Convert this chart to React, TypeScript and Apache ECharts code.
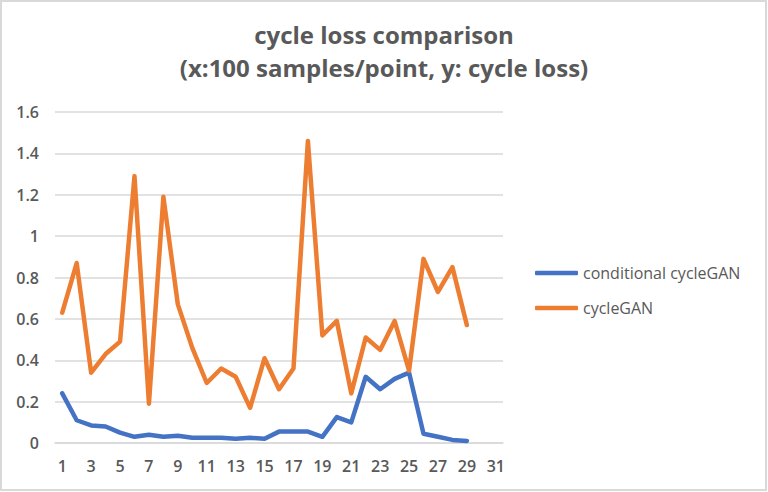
import React, { useEffect, useRef } from "react";
import * as echarts from "echarts";

const categories: string[] = Array.from({ length: 31 }, (_, i) => String(i + 1));

const conditionalCycleGAN: number[] = [
  0.24, 0.11, 0.085, 0.08, 0.05, 0.03, 0.04, 0.03, 0.035, 0.025,
  0.025, 0.025, 0.02, 0.025, 0.02, 0.055, 0.055, 0.055, 0.03, 0.125,
  0.1, 0.32, 0.26, 0.31, 0.34, 0.045, 0.03, 0.015, 0.01,
];

const cycleGAN: number[] = [
  0.63, 0.87, 0.34, 0.43, 0.49, 1.29, 0.19, 1.19, 0.67, 0.46,
  0.29, 0.36, 0.32, 0.17, 0.41, 0.26, 0.36, 1.46, 0.52, 0.59,
  0.24, 0.51, 0.45, 0.59, 0.35, 0.89, 0.73, 0.85, 0.57,
];

const seriesNames: string[] = ["conditional cycleGAN", "cycleGAN"];
const titleText = "cycle loss comparison\n(x:100 samples/point, y: cycle loss)";

const TEXT = "#595959";
const GRID = "#d9d9d9";
const FONT = "'Open Sans', 'Noto Sans', sans-serif";

export default function App() {
  const ref = useRef<HTMLDivElement>(null);

  useEffect(() => {
    if (!ref.current) return;
    const chart = echarts.init(ref.current, undefined, { renderer: "svg" });
    chart.setOption({
      animation: false,
      backgroundColor: "#ffffff",
      color: ["#4472C4", "#ED7D31"],
      title: {
        text: titleText,
        left: "center",
        top: 18,
        padding: 0,
        textStyle: {
          color: TEXT,
          fontFamily: FONT,
          fontWeight: "bold",
          fontSize: 24,
          lineHeight: 33,
        },
      },
      graphic: [
        {
          type: "rect",
          shape: { x: 1, y: 1, width: 765, height: 489 },
          style: { fill: "none", stroke: GRID, lineWidth: 2 },
          silent: true,
        },
      ],
      legend: {
        orient: "vertical",
        left: 535,
        top: 264,
        padding: 0,
        itemWidth: 43,
        itemHeight: 4.5,
        itemGap: 17,
        icon: "roundRect",
        textStyle: {
          color: TEXT,
          fontFamily: FONT,
          fontSize: 16,
          fontWeight: 500,
          lineHeight: 18,
        },
        data: seriesNames,
      },
      grid: {
        left: 55,
        right: 265,
        top: 112,
        bottom: 49,
        containLabel: false,
      },
      xAxis: {
        type: "category",
        data: categories,
        boundaryGap: true,
        axisLine: { show: true, lineStyle: { color: GRID, width: 1.5 } },
        axisTick: { show: false },
        axisLabel: {
          interval: 1,
          color: TEXT,
          fontFamily: FONT,
          fontSize: 16,
          fontWeight: 600,
          margin: 15,
        },
        splitLine: { show: false },
      },
      yAxis: {
        type: "value",
        min: 0,
        max: 1.6,
        interval: 0.2,
        axisLine: { show: false },
        axisTick: { show: false },
        axisLabel: {
          color: TEXT,
          fontFamily: FONT,
          fontSize: 16,
          fontWeight: 600,
          margin: 16,
        },
        splitLine: { lineStyle: { color: GRID, width: 1.5 } },
      },
      series: [
        {
          name: seriesNames[0],
          type: "line",
          data: conditionalCycleGAN,
          symbol: "none",
          lineStyle: { width: 4.5, cap: "round", join: "round" },
        },
        {
          name: seriesNames[1],
          type: "line",
          data: cycleGAN,
          symbol: "none",
          lineStyle: { width: 4.5, cap: "round", join: "round" },
        },
      ],
    });
    return () => chart.dispose();
  }, []);

  return (
    <div
      ref={ref}
      style={{ position: "fixed", left: 0, top: 0, width: 768, height: 492, background: "#fff" }}
    />
  );
}
